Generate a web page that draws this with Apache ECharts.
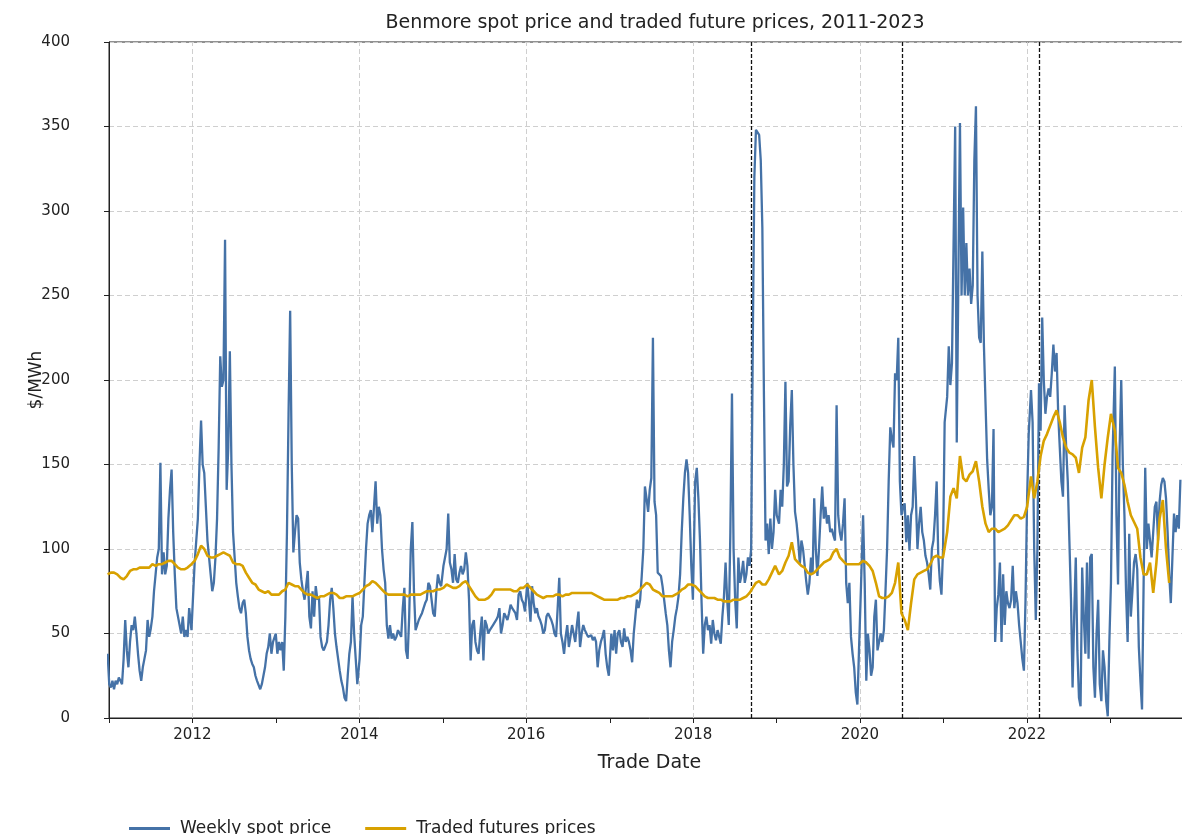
<!DOCTYPE html>
<html>
<head>
<meta charset="utf-8">
<title>Benmore spot price and traded future prices, 2011-2023</title>
<script src="https://cdn.jsdelivr.net/npm/echarts@6/dist/echarts.min.js"></script>
<style>
  html, body { margin: 0; padding: 0; background: #fff; overflow: hidden; }
  /* the original axes run a few pixels past the right edge of the picture */
  #chart { width: 1190px; height: 834px; }
</style>
</head>
<body>
<div id="chart"></div>
<script>
// date of the first weekly reading in each year, 2011..2023
const yearStarts = ['2010-12-26', '2011-12-28', '2012-12-31', '2014-01-02', '2015-01-04', '2016-01-06',
  '2017-01-08', '2018-01-10', '2019-01-12', '2020-01-15', '2021-01-17', '2022-01-19', '2023-01-21'];

// weekly spot price ($/MWh), one array per year
const spot2011 = [38,20,18,22,17,22,20,24,22,20,35,58,40,30,45,55,52,60,50,38,28,22,30,35,40,58,48,53,60,75,85,95,100,151,85,98,85,90,118,135,147,110,85,65,60,55,50,60,48,52,48,65];
const spot2012 = [52,53,92,105,118,150,176,150,145,125,105,95,85,75,80,95,118,160,214,196,200,283,135,160,217,150,110,95,80,72,65,62,68,70,62,48,40,35,32,30,25,22,22,17,20,25,30,38,42,50,38,45];
const spot2013 = [50,38,45,40,45,28,60,110,180,241,150,98,110,120,118,92,82,75,70,78,87,60,53,75,60,78,70,72,48,42,40,40,45,55,70,77,65,50,42,35,28,22,18,12,10,25,38,45,72,50,35,20];
const spot2014 = [35,55,60,80,100,115,120,123,110,125,140,115,125,120,100,88,80,55,47,55,47,50,46,48,52,50,48,65,77,40,35,60,100,116,75,52,55,58,60,62,65,68,70,80,78,70,62,60,75,85,80,78];
const spot2015 = [90,95,100,121,92,88,80,97,82,80,86,90,85,88,98,90,70,34,55,58,45,40,38,50,60,34,58,55,50,52,53,55,55,58,60,65,50,55,62,60,58,62,67,65,66,62,58,73,75,70,68,63];
const spot2016 = [80,70,57,78,68,62,65,60,58,55,50,52,60,62,63,58,55,50,48,65,83,50,45,38,48,55,42,48,55,50,45,55,63,42,50,55,52,50,48,47,49,46,48,45,30,40,45,48,52,38,30,25];
const spot2017 = [50,40,52,38,50,52,45,42,53,45,48,45,40,33,50,60,70,65,70,84,100,137,130,122,135,142,225,128,120,86,85,84,78,70,62,55,40,30,45,52,60,65,72,85,110,130,145,153,145,120,90,70];
const spot2018 = [140,148,130,105,68,38,55,60,52,55,44,58,50,46,52,48,44,60,72,92,70,55,110,192,100,70,53,95,80,85,93,80,85,95,90,100,220,320,348,349,345,330,290,190,105,115,97,118,100,110,135,120];
const spot2019 = [115,135,125,150,199,137,140,173,194,150,122,115,105,91,105,100,100,81,73,80,95,85,130,100,84,100,120,137,118,125,115,120,110,112,108,105,185,120,110,105,115,130,80,68,80,48,38,30,15,8,40,70];
const spot2020 = [120,80,22,50,40,25,30,60,70,40,45,50,45,52,75,100,140,172,165,160,204,200,225,140,120,125,127,104,120,99,120,125,155,130,100,115,125,110,105,96,92,85,76,100,105,120,140,96,81,73,100,175];
const spot2021 = [190,220,197,210,280,350,163,260,352,250,302,250,281,250,266,245,256,330,362,250,225,222,276,220,186,153,135,120,125,171,45,65,73,92,45,85,55,75,68,65,70,90,65,75,68,55,45,35,28,70,130,168];
const spot2022 = [194,175,100,58,100,198,170,237,200,180,190,195,190,204,221,205,216,180,160,140,131,185,160,140,105,70,18,60,95,40,12,7,89,60,38,92,35,95,97,30,12,50,70,20,10,40,30,10,1,45,80,155];
const spot2023 = [208,120,79,160,200,150,120,75,45,109,60,75,92,97,88,42,22,5,80,148,100,115,105,95,110,125,128,105,128,138,142,140,130,110,85,68,95,121,110,120,112,141];

// traded futures prices ($/MWh), fortnightly readings, one array per year
const fut2011 = [85,86,86,85,83,82,84,87,88,88,89,89,89,89,91,90,91,91,92,93,93,91,89,88,88,89];
const fut2012 = [91,93,97,102,100,96,95,95,96,97,98,97,96,92,91,91,90,86,83,80,79,76,75,74,75,73];
const fut2013 = [73,73,75,76,80,79,78,78,76,74,73,73,72,71,72,72,73,74,74,73,71,71,72,72,72,73];
const fut2014 = [74,76,78,79,81,80,78,76,74,73,73,73,73,73,73,72,73,73,73,73,74,75,75,75,76,76];
const fut2015 = [77,79,78,77,77,78,80,81,78,75,72,70,70,70,71,73,76,76,76,76,76,76,75,75,77,77];
const fut2016 = [79,77,75,73,72,71,72,72,72,73,73,72,73,73,74,74,74,74,74,74,74,73,72,71,70,70];
const fut2017 = [70,70,70,71,71,72,72,73,74,76,78,80,79,76,75,74,72,72,72,72,73,74,76,77,79,79];
const fut2018 = [78,76,74,72,71,71,71,70,70,69,69,69,70,70,70,71,72,74,77,80,81,79,79,82,86,90];
const fut2019 = [85,87,92,96,104,94,92,90,89,86,85,86,88,90,92,93,94,98,100,95,93,91,91,91,91,91];
const fut2020 = [93,92,90,87,80,72,71,71,72,74,80,92,62,58,52,68,82,85,86,87,88,91,95,96,95,95];
const fut2021 = [110,131,136,130,155,142,140,144,146,152,140,125,115,110,112,112,110,111,112,114,117,120,120,118,119,125];
const fut2022 = [143,130,140,155,164,168,173,178,182,175,166,160,157,156,154,145,160,166,188,200,172,148,130,150,166,180];
const fut2023 = [170,148,145,138,128,120,116,112,95,85,85,92,74,92,118,129,100,80];

// even-year gridlines and the three event markers
const gridYears = ['2012-01-01', '2014-01-01', '2016-01-01', '2018-01-01', '2020-01-01', '2022-01-01'];
const eventDates = ['2018-09-14', '2020-07-05', '2022-02-24'];

const DAY = 86400000;
const spotYears = [spot2011, spot2012, spot2013, spot2014, spot2015, spot2016, spot2017,
  spot2018, spot2019, spot2020, spot2021, spot2022, spot2023];
const futYears = [fut2011, fut2012, fut2013, fut2014, fut2015, fut2016, fut2017,
  fut2018, fut2019, fut2020, fut2021, fut2022, fut2023];

function toSeries(years, stepDays) {
  const out = [];
  years.forEach((vals, y) => {
    const t0 = Date.parse(yearStarts[y] + 'T00:00:00Z');
    vals.forEach((v, i) => out.push([t0 + i * stepDays * DAY, v]));
  });
  return out;
}

const spotData = toSeries(spotYears, 7);
const futData = toSeries(futYears, 14);

const chart = echarts.init(document.getElementById('chart'), null, { renderer: 'canvas' });

const font = 'DejaVu Sans';
chart.setOption({
  animation: false,
  useUTC: true,
  textStyle: { fontFamily: font },
  title: {
    text: 'Benmore spot price and traded future prices, 2011-2023',
    left: 650,
    top: 9,
    textAlign: 'center',
    textStyle: { fontFamily: font, fontSize: 19, fontWeight: 'normal', color: '#222' }
  },
  legend: {
    data: ['Weekly spot price', 'Traded futures prices'],
    icon: 'rect',
    left: 124,
    top: 815,
    itemWidth: 41,
    itemHeight: 3,
    itemGap: 34,
    textStyle: { fontFamily: font, fontSize: 17, color: '#222', padding: [0, 0, 0, 5] }
  },
  grid: {
    left: 109,
    right: 0,
    top: 42,
    bottom: 116,
    show: true,
    borderColor: '#222',
    borderWidth: 1
  },
  xAxis: {
    type: 'time',
    min: Date.UTC(2011, 0, 1),
    max: Date.UTC(2023, 11, 16),
    minInterval: 365 * DAY,
    maxInterval: 366 * DAY,
    name: 'Trade Date',
    nameLocation: 'middle',
    nameGap: 36,
    nameTextStyle: { fontFamily: font, fontSize: 19, color: '#222' },
    axisLine: { lineStyle: { color: '#222', width: 1 } },
    axisTick: { show: true, length: 5, lineStyle: { color: '#222' } },
    axisLabel: {
      fontFamily: font,
      fontSize: 15,
      color: '#222',
      margin: 10,
      formatter: function (value) {
        const d = new Date(value);
        if (d.getUTCMonth() === 0 && d.getUTCDate() === 1 && d.getUTCFullYear() % 2 === 0) {
          return String(d.getUTCFullYear());
        }
        return '';
      }
    },
    splitLine: { show: false }
  },
  yAxis: {
    type: 'value',
    min: 0,
    max: 400,
    interval: 50,
    name: '$/MWh',
    nameLocation: 'middle',
    nameRotate: 90,
    nameGap: 64,
    nameMoveOverlap: false,
    nameTextStyle: { fontFamily: font, fontSize: 17, color: '#222' },
    axisLine: { show: true, lineStyle: { color: '#222', width: 1 } },
    axisTick: { show: true, length: 5, lineStyle: { color: '#222' } },
    axisLabel: { fontFamily: font, fontSize: 15, color: '#222', margin: 39 },
    splitLine: { show: true, lineStyle: { color: '#cfcfcf', type: [5, 3], width: 1 } }
  },
  series: [
    {
      name: 'Weekly spot price',
      type: 'line',
      data: spotData,
      showSymbol: false,
      symbol: 'none',
      lineStyle: { color: '#4572a7', width: 2.3 },
      itemStyle: { color: '#4572a7' },
      z: 3,
      markLine: {
        silent: true,
        symbol: 'none',
        z: 1,
        label: { show: false },
        lineStyle: { color: '#cfcfcf', type: [5, 3], width: 1 },
        data: gridYears.map(d => ({ xAxis: Date.parse(d + 'T00:00:00Z') }))
      }
    },
    {
      name: 'Traded futures prices',
      type: 'line',
      data: futData,
      showSymbol: false,
      symbol: 'none',
      lineStyle: { color: '#d8a100', width: 2.6 },
      itemStyle: { color: '#d8a100' },
      z: 4,
      markLine: {
        silent: true,
        symbol: 'none',
        z: 2,
        label: { show: false },
        lineStyle: { color: '#111', type: [4, 2], width: 1.3 },
        data: eventDates.map(d => ({ xAxis: Date.parse(d + 'T00:00:00Z') }))
      }
    }
  ]
});
</script>
</body>
</html>
